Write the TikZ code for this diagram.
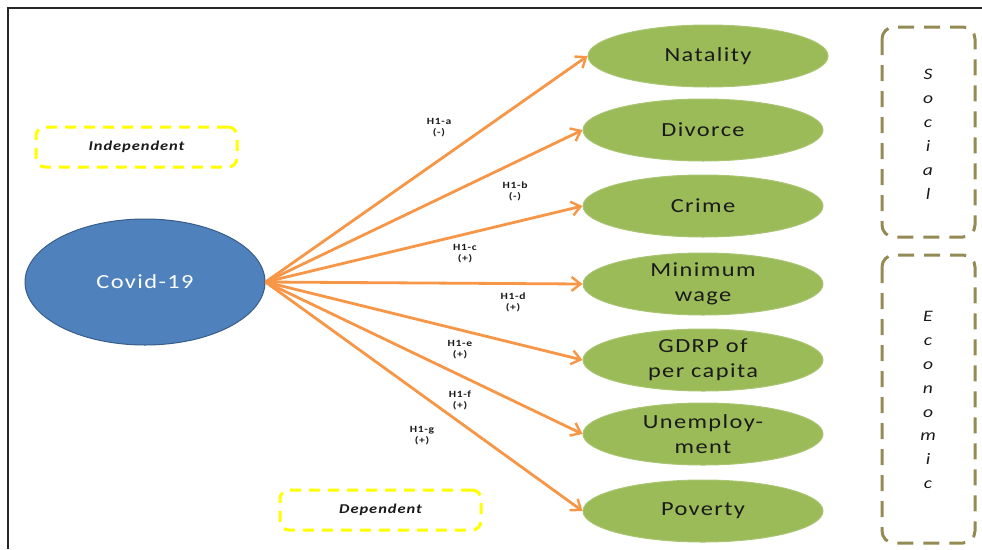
\documentclass[tikz,border=0pt]{standalone}
\usepackage{fontspec}
\setmainfont{Carlito}
\newfontfamily\spaced[FakeStretch=1.22, LetterSpace=7]{Carlito}
\usetikzlibrary{arrows.meta,shapes.geometric}
\definecolor{cblue}{HTML}{4F81BD}
\definecolor{cbluedark}{HTML}{385D8A}
\definecolor{cgreen}{HTML}{9BBB59}
\definecolor{corange}{HTML}{F79646}
\definecolor{cyellow}{HTML}{FFFF00}
\definecolor{colive}{HTML}{948A54}
\definecolor{ctext}{HTML}{1A1A1A}
\tikzset{
  varbox/.style={ellipse, fill=cgreen, draw=cgreen!85!white, line width=1pt,
    minimum width=240pt, minimum height=62pt, inner sep=0pt, align=center,
    text=ctext, font=\spaced\fontsize{20}{25}\selectfont},
  link/.style={draw=corange, line width=2.8pt, -{Straight Barb[length=9pt,width=14pt,line width=2.4pt]}},
  hyp/.style={align=center, text=ctext, font=\spaced\bfseries\fontsize{9.5}{11}\selectfont, inner sep=0pt},
  roletag/.style={draw=cyellow, line width=3pt, dash pattern=on 11pt off 8pt, rounded corners=9pt,
    minimum width=201pt, minimum height=40pt, inner sep=0pt,
    font=\spaced\bfseries\itshape\fontsize{13.5}{15}\selectfont, text=ctext},
  groupbox/.style={draw=colive, line width=3pt, dash pattern=on 16pt off 10pt, rounded corners=12pt},
  grouptext/.style={align=center, inner sep=0pt, text=ctext, font=\spaced\itshape\fontsize{16}{24}\selectfont}
}
\begin{document}
\begin{tikzpicture}[x=1pt,y=-1pt]
\useasboundingbox (0,0) rectangle (982,549);
% frame
\draw[line width=2pt, black!85] (8,549) -- (8,8) -- (982,8);
% independent variable
\node[ellipse, fill=cblue, draw=cbluedark, line width=1pt, minimum width=240pt, minimum height=126pt,
  inner sep=0pt, text=white, font=\spaced\fontsize{20}{24}\selectfont] (covid) at (145,282) {Covid-19};
% dependent variables
\node[varbox] (nat) at (708,56) {Natality};
\node[varbox] (div) at (703,130) {Divorce};
\node[varbox] (cri) at (703,206) {Crime};
\node[varbox] (min) at (703,284) {Minimum\\wage};
\node[varbox] (gdr) at (703,360) {GDRP of\\per capita};
\node[varbox] (une) at (703,434) {Unemploy-\\ment};
\node[varbox] (pov) at (703,511) {Poverty};
% connectors
\foreach \t in {nat,div,cri,min,gdr,une,pov}
  \draw[link] (covid.east) -- (\t.west);
% hypothesis labels
\node[hyp] (ha) at (439,128) {H1-a\\(-)};
\node[hyp] (hb) at (515,191) {H1-b\\(-)};
\node[hyp] (hc) at (465,254) {H1-c\\(+)};
\node[hyp] (hd) at (513,302) {H1-d\\(+)};
\node[hyp] (he) at (460,350) {H1-e\\(+)};
\node[hyp] (hf) at (460,400) {H1-f\\(+)};
\node[hyp] (hg) at (422,436) {H1-g\\(+)};
% role tags
\node[roletag] (indep) at (136.5,147) {Independent};
\node[roletag] (dep) at (380.5,510) {Dependent};
% groups
\draw[groupbox] (882,27) rectangle (975,237);
\draw[groupbox] (882,255) rectangle (975,543);
\node[grouptext] (social) at (928,134) {S\\o\\c\\i\\a\\l};
\node[grouptext, font=\spaced\itshape\fontsize{16}{23.9}\selectfont] (econ) at (928,400) {E\\c\\o\\n\\o\\m\\i\\c};
\end{tikzpicture}
\end{document}
